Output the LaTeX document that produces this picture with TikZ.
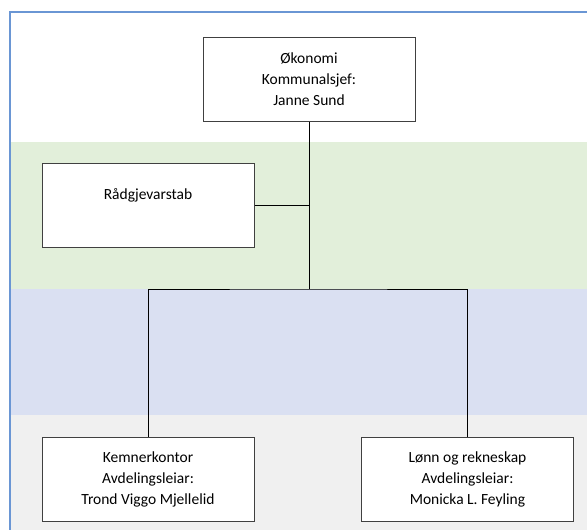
\documentclass[tikz,border=0pt]{standalone}
\usepackage{fontspec}
\setmainfont{Carlito}
\usetikzlibrary{positioning}
\definecolor{bandgreen}{HTML}{E2EFDA}
\definecolor{bandblue}{HTML}{DAE0F2}
\definecolor{bandgrey}{HTML}{F0F0F0}
\definecolor{framblue}{HTML}{6A96D4}
\definecolor{boxline}{HTML}{404040}
\begin{document}
\begin{tikzpicture}[x=1pt, y=-1pt,
			unit/.style={draw=boxline, line width=1pt, fill=white, minimum width=212pt, minimum height=84pt, align=center, font=\fontsize{15.5}{21}\selectfont},
			link/.style={draw=black, line width=0.9pt}]
			\useasboundingbox (0,0) rectangle (587,530);
			% bands
			\fill[bandgreen] (10,142) rectangle (587,289);
			\fill[bandblue] (10,289) rectangle (587,415);
			\fill[bandgrey] (10,415) rectangle (587,530);
			\draw[framblue, line width=1.4pt] (10,530) -- (10,12) -- (587,12);
			% units
			\node[unit] (oko) at (309,79) {Økonomi\\Kommunalsjef:\\Janne Sund};
			\node[unit] (raad) at (148,205) {Rådgjevarstab\\\mbox{}};
			\node[unit] (kemner) at (148,479) {Kemnerkontor\\Avdelingsleiar:\\Trond Viggo Mjellelid};
			\node[unit] (lonn) at (467.5,479) {Lønn og rekneskap\\Avdelingsleiar:\\Monicka L. Feyling};
			\coordinate (bus) at (oko.south |- 0,289);
			\draw[link] (oko.south) -- (bus);
			\draw[link] (raad.east) -- (raad.east -| oko.south);
			\draw[link] (kemner.north) |- (bus) -| (lonn.north);
		\end{tikzpicture}
\end{document}
